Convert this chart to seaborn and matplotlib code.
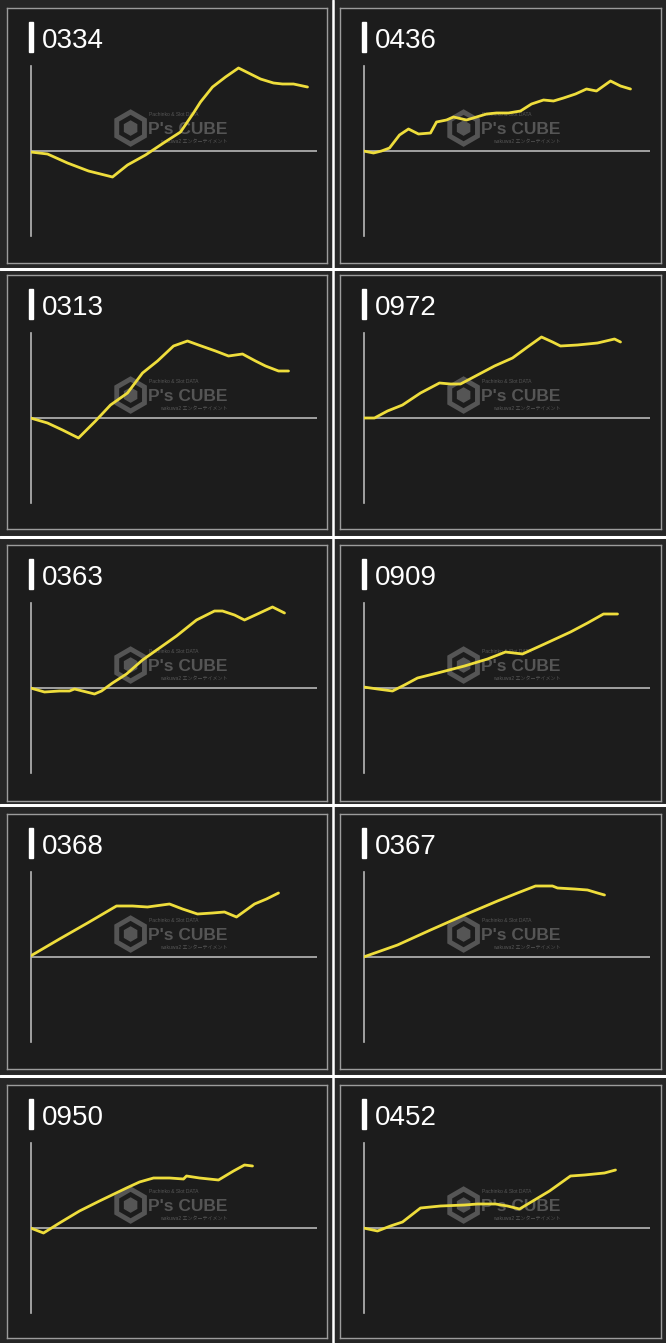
import matplotlib
matplotlib.use("Agg")
import matplotlib.pyplot as plt
import matplotlib.patches as mpatches
import matplotlib.transforms as mtransforms
from matplotlib.lines import Line2D
import seaborn as sns

# machine numbers, in reading order (left -> right, top -> bottom)
machines = ['0334', '0436', '0313', '0972', '0363', '0909', '0368', '0367', '0950', '0452']

# slump data (x = progress, y = coin difference, arbitrary units)
x_0334 = [0, 17, 37, 58, 82, 97, 115, 133, 150, 163, 170, 182, 195, 208, 218, 230, 243, 252, 263, 277]
y_0334 = [-1, -3, -12, -20, -26, -14, -4, 8, 19, 38, 49, 64, 74, 83, 78, 72, 68, 67, 67, 64]

x_0436 = [0, 10, 18, 26, 36, 45, 55, 67, 73, 83, 90, 103, 113, 123, 133, 145, 157, 168, 180, 190, 200, 212, 223, 233, 247, 257, 267]
y_0436 = [0, -2, 0, 3, 16, 22, 17, 18, 29, 31, 34, 31, 34, 37, 38, 38, 40, 47, 51, 50, 53, 57, 62, 60, 70, 65, 62]

x_0313 = [0, 17, 32, 48, 65, 80, 97, 112, 127, 143, 157, 168, 185, 198, 212, 225, 235, 248, 258]
y_0313 = [0, -5, -12, -20, -3, 13, 25, 45, 57, 72, 77, 73, 67, 62, 64, 57, 52, 47, 47]

x_0972 = [0, 11, 24, 39, 57, 76, 87, 97, 114, 131, 149, 164, 178, 189, 197, 214, 234, 251, 257]
y_0972 = [0, 0, 7, 13, 25, 35, 34, 34, 43, 52, 60, 71, 81, 76, 72, 73, 75, 79, 76]

x_0363 = [0, 14, 29, 39, 44, 52, 64, 71, 82, 96, 112, 129, 146, 166, 184, 192, 204, 214, 227, 242, 254]
y_0363 = [0, -4, -3, -3, -1, -3, -6, -3, 5, 14, 28, 40, 52, 68, 77, 77, 73, 68, 74, 81, 75]

x_0909 = [0, 14, 29, 41, 54, 74, 101, 124, 142, 159, 181, 207, 224, 240, 254]
y_0909 = [1, -1, -3, 3, 10, 15, 22, 29, 36, 34, 44, 56, 65, 74, 74]

x_0368 = [0, 29, 57, 86, 102, 117, 139, 152, 167, 182, 194, 206, 224, 236, 248]
y_0368 = [1, 18, 34, 51, 51, 50, 53, 48, 43, 44, 45, 40, 53, 58, 64]

x_0367 = [0, 34, 67, 101, 134, 154, 172, 189, 194, 211, 224, 234, 241]
y_0367 = [0, 12, 27, 42, 56, 64, 71, 71, 69, 68, 67, 64, 62]

x_0950 = [0, 13, 29, 49, 69, 96, 109, 123, 139, 153, 156, 169, 188, 203, 214, 222]
y_0950 = [0, -5, 5, 17, 27, 40, 46, 50, 50, 49, 52, 50, 48, 57, 63, 62]

x_0452 = [0, 14, 27, 39, 57, 77, 101, 114, 132, 144, 156, 171, 186, 207, 221, 241, 252]
y_0452 = [0, -3, 2, 6, 20, 22, 23, 24, 24, 22, 19, 28, 37, 52, 53, 55, 58]

xs = [x_0334, x_0436, x_0313, x_0972, x_0363, x_0909, x_0368, x_0367, x_0950, x_0452]
ys = [y_0334, y_0436, y_0313, y_0972, y_0363, y_0909, y_0368, y_0367, y_0950, y_0452]

W, H = 666, 1343
BG = '#262626'
PANEL = '#1c1c1c'
YELLOW = '#eedd3c'
AXIS = '#b8b8b8'
MARK = '#555555'

sns.set_theme(style='dark')
plt.rcParams['font.family'] = ['Liberation Sans', 'Noto Sans CJK JP', 'DejaVu Sans']

fig = plt.figure(figsize=(W / 100, H / 100), dpi=100, facecolor=BG)


def frac(left, top, width, height):
    return [left / W, 1 - (top + height) / H, width / W, height / H]


row_box = [(8, 263), (275, 529), (545, 801), (814, 1069), (1085, 1338)]
col_box = [(7, 327), (340, 661)]

for i, name in enumerate(machines):
    r, c = divmod(i, 2)
    top, bottom = row_box[r]
    left, right = col_box[c]

    # panel frame
    box = fig.add_axes(frac(left, top, right - left, bottom - top))
    box.set_facecolor(PANEL)
    box.set_xticks([])
    box.set_yticks([])
    for s in box.spines.values():
        s.set_color('#9c9c9c')
        s.set_linewidth(1.0)

    # title: white bar + machine number
    fig.add_artist(mpatches.Rectangle(((left + 21.5) / W, 1 - (top + 44) / H), 4 / W, 30 / H,
                                      color='white', transform=fig.transFigure))
    fig.text((left + 35) / W, 1 - (top + 40) / H, name, color='white', fontsize=20,
             ha='left', va='baseline')

    # plot area
    ax = fig.add_axes(frac(left + 23.5, top + 58, 286, 170))
    ax.patch.set_alpha(0)

    # watermark
    hex_tr = fig.dpi_scale_trans + mtransforms.ScaledTranslation(0.35, 0.635, ax.transAxes)
    ax.add_patch(mpatches.RegularPolygon((0, 0), 6, radius=0.16, fill=False, ec=MARK, lw=3.5,
                                         transform=hex_tr))
    ax.add_patch(mpatches.RegularPolygon((0, 0), 6, radius=0.07, color=MARK, transform=hex_tr))
    ax.text(0.41, 0.628, "P's CUBE", transform=ax.transAxes, color=MARK, fontsize=12.5,
            fontweight='bold', ha='left', va='center')
    ax.text(0.415, 0.715, 'Pachinko & Slot DATA', transform=ax.transAxes, color=MARK,
            fontsize=3.6, ha='left', va='center')
    ax.text(0.69, 0.56, 'wakuwa2 エンターテイメント', transform=ax.transAxes, color=MARK,
            fontsize=3.6, ha='right', va='center')

    ax.axhline(0, color=AXIS, lw=1.2, zorder=2)
    sns.lineplot(x=xs[i], y=ys[i], ax=ax, color=YELLOW, lw=2.0, zorder=3)
    ax.set_xlim(0, 286)
    ax.set_ylim(-85, 85)
    ax.set_xticks([])
    ax.set_yticks([])
    ax.set_xlabel('')
    ax.set_ylabel('')
    for k, s in ax.spines.items():
        s.set_visible(k == 'left')
    ax.spines['left'].set_color(AXIS)
    ax.spines['left'].set_linewidth(1.2)
    ax.grid(False)

# white separators between screenshots
for yy in [268.5, 537.5, 805.5, 1075.5]:
    fig.add_artist(Line2D([0, 1], [1 - yy / H] * 2, color='white', lw=2.2,
                          transform=fig.transFigure))
fig.add_artist(Line2D([333.5 / W] * 2, [0, 1], color='white', lw=1.8,
                      transform=fig.transFigure))

fig.savefig('out.png', dpi=100, facecolor=BG)
